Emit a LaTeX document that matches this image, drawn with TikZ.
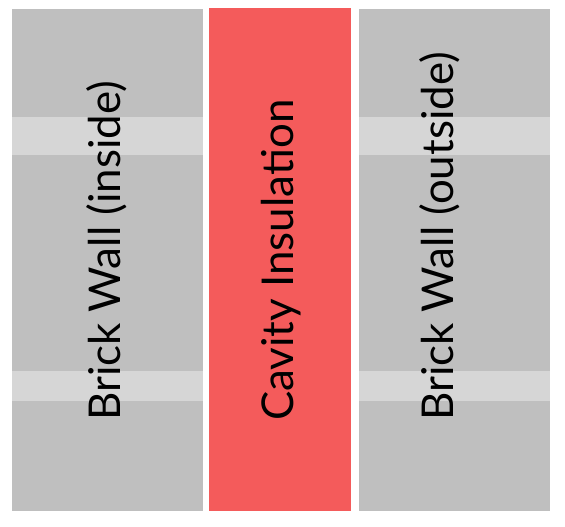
\documentclass[tikz,border=0pt]{standalone}
\usepackage{fontspec}
\setmainfont{Lato}
\usetikzlibrary{positioning}
\definecolor{brickgray}{HTML}{BFBFBF}
\definecolor{mortar}{HTML}{D6D6D6}
\definecolor{foamred}{HTML}{F45B5B}
\tikzset{
    brick/.style={fill=brickgray},
    joint/.style={fill=mortar},
    cavity/.style={fill=foamred},
    walllabel/.style={
        rotate=90, anchor=base west, inner sep=0pt,
        font=\fontsize{44}{44}\selectfont, text=black
    }
}
\begin{document}
\begin{tikzpicture}[x=1bp, y=-1bp]

\useasboundingbox (0,0) rectangle (565,527);

% Inside leaf
\fill[brick] (12,9) rectangle (203,511);
\fill[joint] (12,117) rectangle (203,155);
\fill[joint] (12,371) rectangle (203,401);

% Cavity
\fill[cavity] (209,8) rectangle (351,511);

% Outside leaf
\fill[brick] (359,9) rectangle (550,511);
\fill[joint] (359,117) rectangle (550,155);
\fill[joint] (359,371) rectangle (550,401);

% Labels
\node[walllabel] (inside) at (120,421) {Brick Wall (inside)};
\node[walllabel] (insulation) at (293,421) {Cavity Insulation};
\node[walllabel] (outside) at (453,421) {Brick Wall (outside)};

\end{tikzpicture}
\end{document}
